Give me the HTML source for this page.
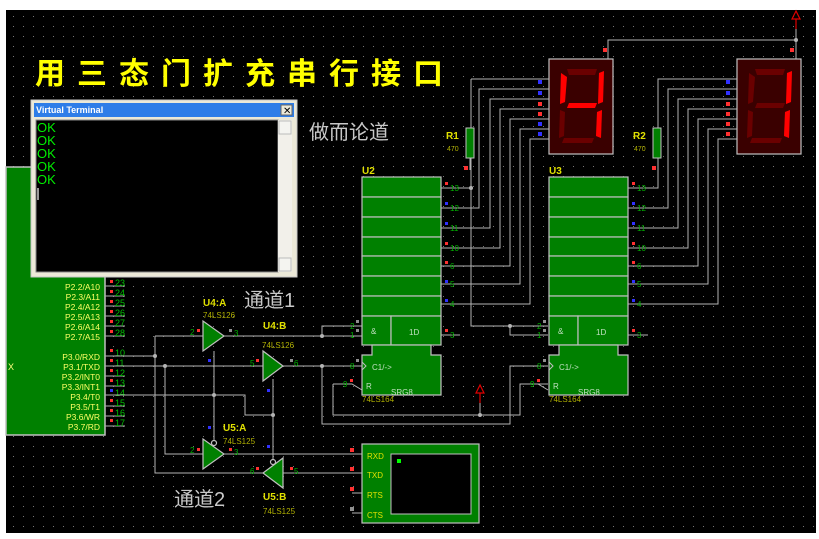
<!DOCTYPE html>
<html><head><meta charset="utf-8"><style>
html,body{margin:0;padding:0;background:#fff;}
svg{display:block}
text{font-family:"Liberation Sans","Noto Sans CJK SC",sans-serif;}
</style></head><body>
<svg width="819" height="539" viewBox="0 0 819 539" xmlns="http://www.w3.org/2000/svg">
<defs>
<pattern id="dots" x="0" y="0" width="10" height="10" patternUnits="userSpaceOnUse">
<rect x="3" y="6" width="1" height="1" fill="#787878"/>
</pattern>
</defs>
<rect x="0" y="0" width="819" height="539" fill="#fff"/>
<rect x="6" y="10" width="810" height="523" fill="#000"/>
<rect x="6" y="10" width="810" height="523" fill="url(#dots)"/>

<!-- title -->
<text x="35" y="84" font-size="30" font-weight="bold" fill="#ffff00" letter-spacing="12" font-family="'Noto Sans CJK SC',sans-serif">用三态门扩充串行接口</text>
<text x="309" y="139" font-size="20" fill="#c8c8c8" font-family="'Noto Sans CJK SC',sans-serif">做而论道</text>

<!-- MCU -->
<rect x="6" y="167" width="99" height="268" fill="#008000" stroke="#c0c0c0" stroke-width="1.5"/>
<text x="8" y="370" font-size="9" fill="#ffff80">X</text>
<g font-size="8.5" fill="#ffff66" text-anchor="end">
<text x="100" y="290">P2.2/A10</text><text x="100" y="300">P2.3/A11</text><text x="100" y="310">P2.4/A12</text>
<text x="100" y="320">P2.5/A13</text><text x="100" y="330">P2.6/A14</text><text x="100" y="340">P2.7/A15</text>
<text x="100" y="360">P3.0/RXD</text><text x="100" y="370">P3.1/TXD</text><text x="100" y="380">P3.2/INT0</text>
<text x="100" y="390">P3.3/INT1</text><text x="100" y="400">P3.4/T0</text><text x="100" y="410">P3.5/T1</text>
<text x="100" y="420">P3.6/WR</text><text x="100" y="430">P3.7/RD</text>
</g>
<g stroke="#b0b0b0" stroke-width="1">
<line x1="105" y1="286" x2="125" y2="286"/><line x1="105" y1="296" x2="125" y2="296"/><line x1="105" y1="306" x2="125" y2="306"/>
<line x1="105" y1="316" x2="125" y2="316"/><line x1="105" y1="326" x2="125" y2="326"/><line x1="105" y1="336" x2="125" y2="336"/>
<line x1="105" y1="376" x2="125" y2="376"/><line x1="105" y1="386" x2="125" y2="386"/><line x1="105" y1="406" x2="125" y2="406"/>
<line x1="105" y1="416" x2="125" y2="416"/><line x1="105" y1="426" x2="125" y2="426"/>
</g>
<g font-size="9" fill="#00c000">
<text x="115" y="286">23</text><text x="115" y="296">24</text><text x="115" y="306">25</text><text x="115" y="316">26</text>
<text x="115" y="326">27</text><text x="115" y="336">28</text>
<text x="115" y="356">10</text><text x="115" y="366">11</text><text x="115" y="376">12</text><text x="115" y="386">13</text>
<text x="115" y="396">14</text><text x="115" y="406">15</text><text x="115" y="416">16</text><text x="115" y="426">17</text>
</g>
<g fill="#ff3030">
<rect x="110" y="280" width="3" height="3"/><rect x="110" y="290" width="3" height="3"/><rect x="110" y="300" width="3" height="3"/>
<rect x="110" y="310" width="3" height="3"/><rect x="110" y="320" width="3" height="3"/><rect x="110" y="330" width="3" height="3"/>
<rect x="110" y="349" width="3" height="3"/><rect x="110" y="359" width="3" height="3"/><rect x="110" y="369" width="3" height="3"/>
<rect x="110" y="379" width="3" height="3"/><rect x="110" y="399" width="3" height="3"/>
<rect x="110" y="409" width="3" height="3"/><rect x="110" y="419" width="3" height="3"/>
</g>
<rect x="110" y="389" width="3" height="3" fill="#3030ff"/>

<!-- wires -->
<g stroke="#b4b4b4" stroke-width="1" fill="none">
<polyline points="105,356 155,356"/>
<polyline points="105,366 263,366"/>
<polyline points="105,395 245,395 245,415 273,415"/>
<polyline points="155,336 203,336"/>
<polyline points="155,336 155,473 263,473"/>
<polyline points="165,366 165,454 203,454"/>
<polyline points="224,336 362,336"/>
<polyline points="322,336 322,326 362,326"/>
<polyline points="283,366 362,366"/>
<polyline points="322,366 322,424 510,424 510,366 548,366"/>
<polyline points="214,351 214,441"/>
<polyline points="273,379 273,460"/>
<polyline points="224,454 362,454"/>
<polyline points="283,473 362,473"/>
<polyline points="352,493 362,493"/>
<polyline points="352,513 362,513"/>
<polyline points="333,384 333,415 520,415 520,384 548,384"/>
<polyline points="333,384 352,384 362,390"/>
<polyline points="520,384 538,384 548,390"/>
<polyline points="480,393 480,415"/>
<polyline points="441,335 460,335"/>
<polyline points="628,335 648,335"/>
<polyline points="441,188 471,188"/>
<polyline points="471,79 471,326 548,326"/>
<polyline points="510,326 510,335 548,335"/>
<polyline points="471,79 549,79"/>
<polyline points="441,208 479,208 479,89 549,89"/>
<polyline points="441,228 490,228 490,99 549,99"/>
<polyline points="441,248 500,248 500,109 549,109"/>
<polyline points="441,266 510,266 510,119 549,119"/>
<polyline points="441,284 520,284 520,129 549,129"/>
<polyline points="441,304 530,304 530,139 549,139"/>
<polyline points="470,158 470,170"/>
<polyline points="628,188 658,188 658,79 737,79"/>
<polyline points="628,208 668,208 668,89 737,89"/>
<polyline points="628,228 678,228 678,99 737,99"/>
<polyline points="628,248 688,248 688,109 737,109"/>
<polyline points="628,266 698,266 698,119 737,119"/>
<polyline points="628,284 708,284 708,129 737,129"/>
<polyline points="628,304 718,304 718,139 737,139"/>
<polyline points="608,59 608,40 796,40"/>
<polyline points="796,28 796,59"/>
</g>
<g fill="#b4b4b4">
<circle cx="155" cy="356" r="2"/><circle cx="165" cy="366" r="2"/><circle cx="214" cy="395" r="2"/>
<circle cx="273" cy="415" r="2"/><circle cx="322" cy="336" r="2"/><circle cx="322" cy="366" r="2"/>
<circle cx="480" cy="415" r="2"/><circle cx="510" cy="326" r="2"/><circle cx="471" cy="188" r="2"/>
<circle cx="796" cy="40" r="2"/>
</g>

<!-- gates -->
<g fill="#008000" stroke="#c0c0c0" stroke-width="1.2">
<polygon points="203,321 203,351 224,336"/>
<polygon points="263,351 263,381 283,366"/>
<polygon points="203,439 203,469 224,454"/>
<polygon points="283,458 283,488 263,473"/>
</g>
<g fill="none" stroke="#c0c0c0" stroke-width="1.2"><circle cx="214" cy="443" r="2.5"/><circle cx="273" cy="462" r="2.5"/></g>
<g font-size="10" font-weight="bold" fill="#e0e000">
<text x="203" y="306">U4:A</text><text x="263" y="329">U4:B</text><text x="223" y="431">U5:A</text><text x="263" y="500">U5:B</text>
</g>
<g font-size="8" fill="#b0b000">
<text x="203" y="318">74LS126</text><text x="262" y="348">74LS126</text><text x="223" y="444">74LS125</text><text x="263" y="514">74LS125</text>
</g>
<text x="244" y="307" font-size="20" fill="#c8c8c8" font-family="'Noto Serif CJK SC',serif">通道1</text>
<text x="174" y="506" font-size="20" fill="#c8c8c8" font-family="'Noto Serif CJK SC',serif">通道2</text>
<g font-size="8" fill="#00b000">
<text x="190" y="335">2</text><text x="234" y="336">3</text><text x="250" y="366">5</text><text x="294" y="366">6</text>
<text x="190" y="453">2</text><text x="234" y="455">3</text><text x="250" y="474">6</text><text x="294" y="474">5</text>
</g>
<g fill="#ff3030"><rect x="197" y="329" width="3" height="3"/><rect x="256" y="359" width="3" height="3"/>
<rect x="197" y="448" width="3" height="3"/><rect x="229" y="448" width="3" height="3"/><rect x="256" y="467" width="3" height="3"/><rect x="290" y="467" width="3" height="3"/>
<rect x="350" y="448" width="4" height="4"/><rect x="350" y="467" width="4" height="4"/><rect x="350" y="487" width="4" height="4"/></g>
<g fill="#909090"><rect x="229" y="329" width="3" height="3"/><rect x="290" y="359" width="3" height="3"/><rect x="350" y="507" width="4" height="4"/></g>
<g fill="#3030ff"><rect x="208" y="359" width="3" height="3"/><rect x="267" y="389" width="3" height="3"/><rect x="208" y="426" width="3" height="3"/><rect x="267" y="445" width="3" height="3"/></g>

<!-- U2 & U3 -->
<g id="u">
<g fill="#008000" stroke="#c0c0c0" stroke-width="1.2">
<rect x="362" y="177" width="79" height="20"/><rect x="362" y="197" width="79" height="20"/>
<rect x="362" y="217" width="79" height="20"/><rect x="362" y="237" width="79" height="19"/>
<rect x="362" y="256" width="79" height="20"/><rect x="362" y="276" width="79" height="20"/>
<rect x="362" y="296" width="79" height="20"/>
<rect x="362" y="316" width="29" height="29"/><rect x="391" y="316" width="50" height="29"/>
<polygon points="372,345 431,345 431,355 441,355 441,395 362,395 362,355 372,355"/>
</g>
<g font-size="8" fill="#c0e0c0"><text x="371" y="334">&amp;</text><text x="409" y="335">1D</text><text x="372" y="370">C1/-&gt;</text><text x="366" y="389">R</text><text x="391" y="395">SRG8</text></g>
<polyline points="362,362 366,366 362,370" fill="none" stroke="#c0c0c0"/>
<g font-size="8" fill="#00b000"><text x="450" y="191">13</text><text x="450" y="211">12</text><text x="450" y="231">11</text><text x="450" y="251">10</text>
<text x="450" y="269">6</text><text x="450" y="287">5</text><text x="450" y="307">4</text><text x="450" y="338">3</text>
<text x="350" y="329">2</text><text x="350" y="338">1</text><text x="350" y="369">8</text><text x="343" y="387">9</text></g>
<g fill="#ff3030"><rect x="445" y="182" width="3" height="3"/><rect x="445" y="242" width="3" height="3"/><rect x="445" y="261" width="3" height="3"/><rect x="445" y="329" width="3" height="3"/><rect x="350" y="379" width="3" height="3"/></g>
<g fill="#3030ff"><rect x="445" y="202" width="3" height="3"/><rect x="445" y="222" width="3" height="3"/><rect x="445" y="280" width="3" height="3"/><rect x="445" y="299" width="3" height="3"/></g>
<g fill="#909090"><rect x="356" y="320" width="3" height="3"/><rect x="356" y="329" width="3" height="3"/><rect x="356" y="359" width="3" height="3"/></g>
<text x="362" y="402" font-size="8" fill="#b0b000">74LS164</text>
</g>
<text x="362" y="174" font-size="10" font-weight="bold" fill="#e0e000">U2</text>
<use href="#u" transform="translate(187,0)"/>
<text x="549" y="174" font-size="10" font-weight="bold" fill="#e0e000">U3</text>

<!-- resistors -->
<rect x="466" y="128" width="8" height="30" fill="#008000" stroke="#c0c0c0"/>
<rect x="653" y="128" width="8" height="30" fill="#008000" stroke="#c0c0c0"/>
<text x="446" y="139" font-size="10" font-weight="bold" fill="#e0e000">R1</text><text x="447" y="151" font-size="7" fill="#b0b000">470</text>
<text x="633" y="139" font-size="10" font-weight="bold" fill="#e0e000">R2</text><text x="634" y="151" font-size="7" fill="#b0b000">470</text>
<g fill="#ff3030"><rect x="464" y="166" width="4" height="4"/><rect x="652" y="166" width="4" height="4"/><rect x="603" y="48" width="4" height="4"/><rect x="790" y="48" width="4" height="4"/>
<rect x="538" y="102" width="4" height="4"/><rect x="538" y="112" width="4" height="4"/>
<rect x="726" y="102" width="4" height="4"/><rect x="726" y="112" width="4" height="4"/><rect x="726" y="122" width="4" height="4"/><rect x="726" y="132" width="4" height="4"/></g>
<g fill="#3030ff"><rect x="538" y="80" width="4" height="4"/><rect x="538" y="91" width="4" height="4"/><rect x="538" y="122" width="4" height="4"/><rect x="538" y="132" width="4" height="4"/>
<rect x="726" y="80" width="4" height="4"/><rect x="726" y="91" width="4" height="4"/></g>

<!-- displays -->
<g id="d">
<rect x="549" y="59" width="64" height="95" fill="#3a0000" stroke="#c0c0c0" stroke-width="1.2"/>
<g fill="#6a0000">
<polygon points="567,69 597,69 595,75 569,75"/>
<polygon points="569,103 597,103 595,108 567,108"/>
<polygon points="564,138 594,138 592,143 562,143"/>
<polygon points="561,73 567,77 565,102 560,104"/>
<polygon points="599,73 604,71 603,102 598,104"/>
<polygon points="560,110 565,112 564,136 559,138"/>
<polygon points="597,112 602,110 601,138 596,136"/>
</g>
</g>
<use href="#d" transform="translate(188,0)"/>
<g fill="#ff0000">
<polygon points="561,73 567,77 565,102 560,104"/>
<polygon points="599,73 604,71 603,102 598,104"/>
<polygon points="569,103 597,103 595,108 567,108"/>
<polygon points="597,112 602,110 601,138 596,136"/>
<polygon points="787,73 792,71 791,102 786,104"/>
<polygon points="785,112 790,110 789,138 784,136"/>
</g>

<!-- power arrows -->
<g fill="none" stroke="#e00000" stroke-width="1.2">
<polygon points="480,385 476,393 484,393"/><line x1="480" y1="393" x2="480" y2="403"/>
<polygon points="796,11 792,19 800,19"/><line x1="796" y1="19" x2="796" y2="29"/>
</g>

<!-- virtual terminal component -->
<rect x="362" y="444" width="117" height="79" fill="#008000" stroke="#c0c0c0" stroke-width="1.2"/>
<rect x="391" y="454" width="80" height="60" fill="#000" stroke="#c0c0c0"/>
<rect x="397" y="459" width="4" height="4" fill="#00ff00"/>
<g font-size="8" fill="#e0e000"><text x="367" y="459">RXD</text><text x="367" y="478">TXD</text><text x="367" y="498">RTS</text><text x="367" y="518">CTS</text></g>

<!-- virtual terminal window -->
<rect x="31" y="100" width="266" height="177" fill="#ece9d8" stroke="#c8c8c8"/>
<rect x="34" y="103" width="260" height="14" fill="#2e7de8"/>
<text x="36" y="113" font-size="9" font-weight="bold" fill="#fff" font-family="'Liberation Mono',monospace">Virtual Terminal</text>
<rect x="281" y="105" width="11" height="10" fill="#ece9d8" stroke="#666"/>
<text x="283" y="114" font-size="10" fill="#000">✕</text>
<rect x="36" y="120" width="242" height="152" fill="#000" stroke="#888"/>
<rect x="278" y="120" width="14" height="152" fill="#f2f0ea"/>
<rect x="279" y="121" width="12" height="13" fill="#f4f4f0" stroke="#bbb"/>
<rect x="279" y="258" width="12" height="13" fill="#f4f4f0" stroke="#bbb"/>
<g font-size="13" fill="#00ee00"><text x="37" y="132">OK</text><text x="37" y="145">OK</text><text x="37" y="158">OK</text><text x="37" y="171">OK</text><text x="37" y="184">OK</text></g>
<rect x="37" y="188" width="2" height="12" fill="#999"/>
</svg>
</body></html>
